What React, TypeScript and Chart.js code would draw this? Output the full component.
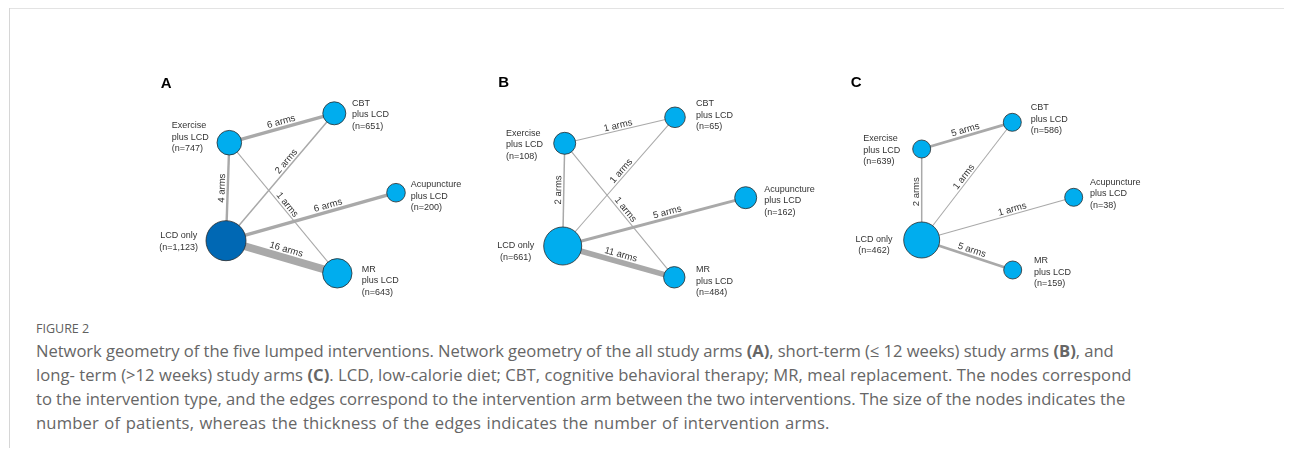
import React, { useEffect, useRef } from "react";
import { Chart, registerables } from "chart.js";

Chart.register(...registerables);

// ---------------- data ----------------
const interventions = ["Exercise plus LCD", "CBT plus LCD", "Acupuncture plus LCD", "LCD only", "MR plus LCD"];
const nodeLabelLines = [["Exercise", "plus LCD"], ["CBT", "plus LCD"], ["Acupuncture", "plus LCD"], ["LCD only"], ["MR", "plus LCD"]];
const panelLetters = ["A", "B", "C"];

const patientsAll = [747, 651, 200, 1123, 643];
const patientsShort = [108, 65, 162, 661, 484];
const patientsLong = [639, 586, 38, 462, 159];

// comparisons (node index pairs): Ex-CBT, CBT-LCD, Ex-LCD, Ex-MR, LCD-Acup, LCD-MR
const comparisons = [[0, 1], [1, 3], [0, 3], [0, 4], [3, 2], [3, 4]];
const armsAll = [6, 2, 4, 1, 6, 16];
const armsShort = [1, 1, 2, 1, 5, 11];
const armsLong = [5, 1, 2, 0, 1, 5];

// ---------------- layout (network layout units) ----------------
const layoutPosA = [[89.3, 72.7], [194.3, 43.3], [256, 122.7], [86, 170.7], [197.3, 203.3]];
const layoutPosB = [[84.7, 73.3], [195, 47.3], [265.7, 127.7], [82.7, 176], [194.3, 207.3]];
const layoutPosC = [[91.7, 79], [182.3, 52.3], [243.7, 127.3], [91.7, 170], [182.7, 200]];

const nodeSizeA = [12.3, 11.5, 9.3, 20, 14.7];
const nodeSizeB = [11, 10.3, 11, 19, 10.7];
const nodeSizeC = [9, 9, 9, 18, 9];

const labelPosA = [[31.7, 56, "left"], [212, 33.3, "left"], [270.7, 115, "left"], [38.7, 165.7, "center"], [221.7, 199.3, "left"]];
const labelPosB = [[26, 63.3, "left"], [216, 34, "left"], [284.3, 119.3, "left"], [35.7, 176, "center"], [216, 200, "left"]];
const labelPosC = [[33.3, 69, "left"], [200.7, 37.7, "left"], [260, 112.3, "left"], [44, 169.3, "center"], [204, 190.7, "left"]];

const edgeLabelAtA = [0.51, 0.405, 0.465, 0.5, 0.61, 0.52];
const edgeLabelAtB = [0.494, 0.444, 0.455, 0.519, 0.58, 0.503];
const edgeLabelAtC = [0.5, 0.49, 0.47, 0.5, 0.605, 0.53];

const letterPos = [[20.7, 13.7], [18.3, 13.3], [20.7, 13.3]];

const PANEL_W = 340;
const PANEL_H = 240;
const LIGHT_BLUE = "#00adee";
const DARK_BLUE = "#0068b4";
const EDGE_COLOR = "#a9a9a9";
const TEXT_COLOR = "#333333";
const FONT = "'Liberation Sans', Arial, sans-serif";

const panels = [
  { letter: 0, patients: patientsAll, arms: armsAll, pos: layoutPosA, size: nodeSizeA, labels: labelPosA, edgeAt: edgeLabelAtA, dark: 3, left: 140 },
  { letter: 1, patients: patientsShort, arms: armsShort, pos: layoutPosB, size: nodeSizeB, labels: labelPosB, edgeAt: edgeLabelAtB, dark: -1, left: 480 },
  { letter: 2, patients: patientsLong, arms: armsLong, pos: layoutPosC, size: nodeSizeC, labels: labelPosC, edgeAt: edgeLabelAtC, dark: -1, left: 830 },
];

const edgeWidth = (arms: number) => 0.6 + arms * 0.45;

function NetworkPanel({ panel }: { panel: any }) {
  const ref = useRef<HTMLCanvasElement | null>(null);

  useEffect(() => {
    if (!ref.current) return;
    const { patients, arms, pos, size, labels, edgeAt, dark, letter } = panel;

    const edgeSets: any[] = [];
    comparisons.forEach((pair, i) => {
      if (!arms[i]) return;
      const [a, b] = pair;
      edgeSets.push({
        type: "scatter",
        label: `${interventions[a]} vs ${interventions[b]}`,
        data: [
          { x: pos[a][0], y: pos[a][1] },
          { x: pos[b][0], y: pos[b][1] },
        ],
        showLine: true,
        borderColor: EDGE_COLOR,
        borderWidth: edgeWidth(arms[i]),
        borderCapStyle: "butt",
        pointRadius: 0,
        pointHoverRadius: 0,
        clip: false,
        order: 2,
      });
    });

    const nodeSet = {
      type: "scatter",
      label: "nodes",
      data: interventions.map((_, i) => ({ x: pos[i][0], y: pos[i][1] })),
      pointRadius: size,
      pointHoverRadius: size,
      pointBackgroundColor: interventions.map((_, i) => (i === dark ? DARK_BLUE : LIGHT_BLUE)),
      pointBorderColor: "#2b2b2b",
      pointBorderWidth: 0.8,
      showLine: false,
      clip: false,
      order: 1,
    };

    const labelPlugin = {
      id: "netLabels",
      afterDatasetsDraw(chart: any) {
        const ctx = chart.ctx;
        const xs = chart.scales.x;
        const ys = chart.scales.y;
        ctx.save();
        // edge labels
        ctx.fillStyle = TEXT_COLOR;
        ctx.font = `9.5px ${FONT}`;
        ctx.textAlign = "center";
        ctx.textBaseline = "middle";
        comparisons.forEach((pair, i) => {
          if (!arms[i]) return;
          const [a, b] = pair;
          const x1 = xs.getPixelForValue(pos[a][0]);
          const y1 = ys.getPixelForValue(pos[a][1]);
          const x2 = xs.getPixelForValue(pos[b][0]);
          const y2 = ys.getPixelForValue(pos[b][1]);
          const t = edgeAt[i];
          const px = x1 + (x2 - x1) * t;
          const py = y1 + (y2 - y1) * t;
          let ang = Math.atan2(y2 - y1, x2 - x1);
          if (ang >= Math.PI / 2 - 1e-6) ang -= Math.PI;
          if (ang < -Math.PI / 2 - 1e-6) ang += Math.PI;
          const off = 4.5 + edgeWidth(arms[i]) / 2;
          ctx.save();
          ctx.translate(px, py);
          ctx.rotate(ang);
          ctx.fillText(`${arms[i]} arms`, 0, -off);
          ctx.restore();
        });
        // node labels
        ctx.font = `9px ${FONT}`;
        interventions.forEach((_, i) => {
          const [lx, ly, align] = labels[i];
          const x = xs.getPixelForValue(lx);
          const y = ys.getPixelForValue(ly);
          const lines = [...nodeLabelLines[i], `(n=${patients[i].toLocaleString("en-US")})`];
          ctx.textAlign = align;
          lines.forEach((line: string, k: number) => ctx.fillText(line, x, y + k * 11.5));
        });
        // panel letter
        ctx.font = `bold 15px ${FONT}`;
        ctx.fillStyle = "#000";
        ctx.textAlign = "left";
        ctx.fillText(panelLetters[letter], xs.getPixelForValue(letterPos[letter][0]), ys.getPixelForValue(letterPos[letter][1]));
        ctx.restore();
      },
    };

    const chart = new Chart(ref.current, {
      type: "scatter",
      data: { datasets: [nodeSet, ...edgeSets] as any },
      options: {
        responsive: false,
        animation: false,
        events: [],
        layout: { padding: 0, autoPadding: false },
        scales: {
          x: { type: "linear", min: 0, max: PANEL_W, display: false },
          y: { type: "linear", min: 0, max: PANEL_H, reverse: true, display: false },
        },
        plugins: { legend: { display: false }, tooltip: { enabled: false } },
      },
      plugins: [labelPlugin],
    });
    return () => chart.destroy();
  }, [panel]);

  return (
    <canvas
      ref={ref}
      width={PANEL_W}
      height={PANEL_H}
      style={{ position: "absolute", left: panel.left - 8, top: 70 - 8, width: PANEL_W, height: PANEL_H }}
    />
  );
}

const captionLines = [
  <>Network geometry of the five lumped interventions. Network geometry of the all study arms <b>(A)</b>, short-term (≤ 12 weeks) study arms <b>(B)</b>, and</>,
  <>long- term (&gt;12 weeks) study arms <b>(C)</b>. LCD, low-calorie diet; CBT, cognitive behavioral therapy; MR, meal replacement. The nodes correspond</>,
  <>to the intervention type, and the edges correspond to the intervention arm between the two interventions. The size of the nodes indicates the</>,
  <>number of patients, whereas the thickness of the edges indicates the number of intervention arms.</>,
];
const captionLineSpacing = [
  { letterSpacing: -0.05 },
  { letterSpacing: 0.04 },
  { letterSpacing: -0.035 },
  { letterSpacing: 0.15, wordSpacing: 1 },
];

export default function App() {
  return (
    <div style={{ position: "relative", width: 1284, height: 440, overflow: "hidden", background: "#fff" }}>
      <div style={{ position: "absolute", left: 1, top: -1, width: 1283, height: 0, borderTop: "2px solid #e3e3e3" }} />
      <div style={{ position: "absolute", left: 1, top: 0, width: 0, height: 440, borderLeft: "1px solid #d6d6d6" }} />
      {panels.map((p, i) => (
        <NetworkPanel key={i} panel={p} />
      ))}
      <div
        style={{
          position: "absolute",
          left: 36 - 8,
          top: 320 - 8,
          fontFamily: "'Open Sans', sans-serif",
          fontSize: 12.5,
          color: "#606060",
          lineHeight: "17px",
        }}
      >
        FIGURE 2
      </div>
      <div
        style={{
          position: "absolute",
          left: 36 - 8,
          top: 339 - 8,
          fontFamily: "'Open Sans', sans-serif",
          fontSize: 16.6,
          color: "#666666",
          lineHeight: "24px",
          whiteSpace: "nowrap",
        }}
      >
        {captionLines.map((l, i) => (
          <div key={i} style={captionLineSpacing[i]}>{l}</div>
        ))}
      </div>
    </div>
  );
}
